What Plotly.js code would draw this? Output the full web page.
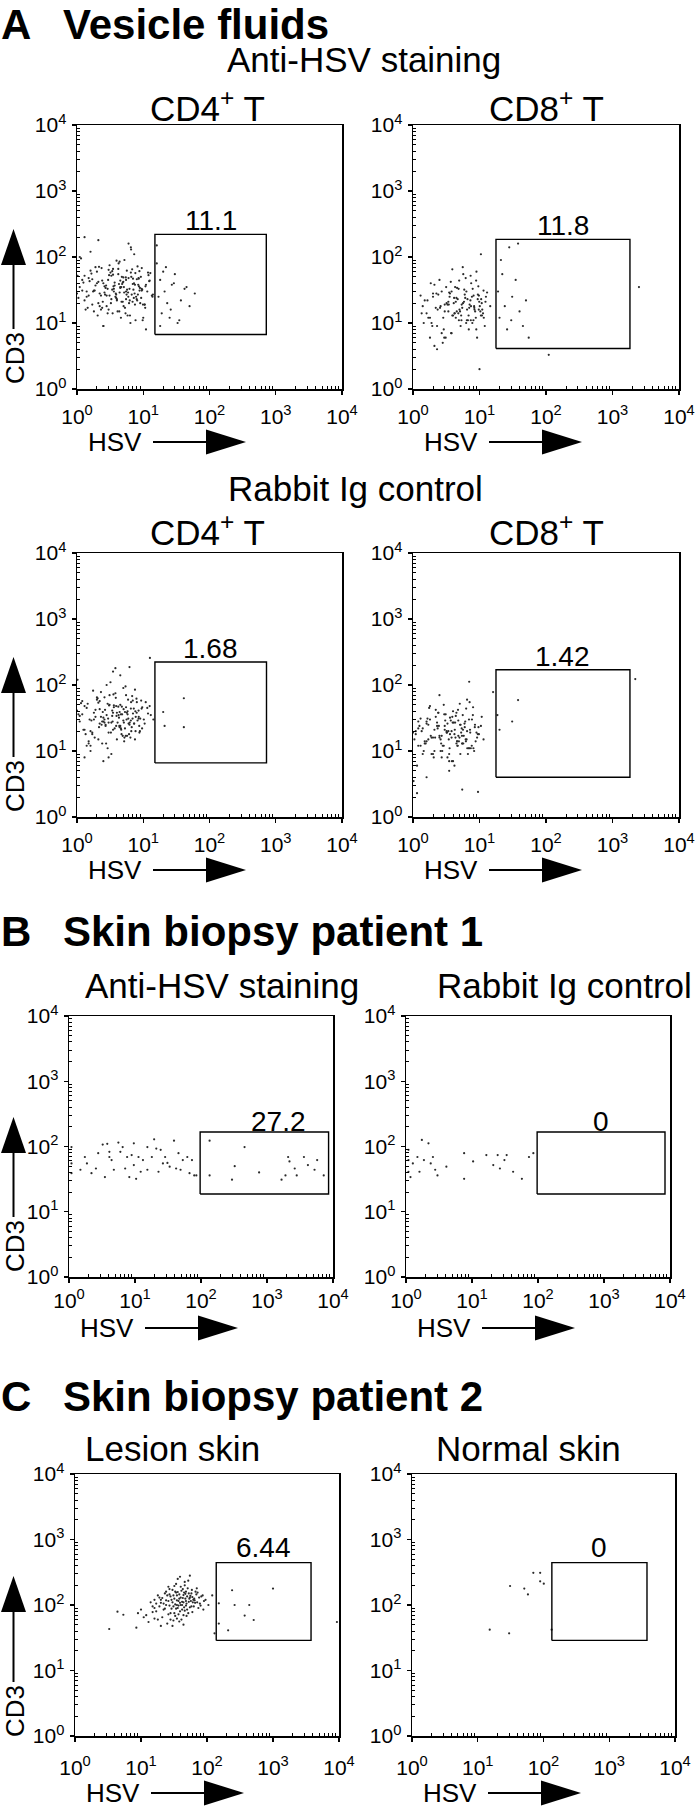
<!DOCTYPE html>
<html>
<head>
<meta charset="utf-8">
<script src="https://cdn.plot.ly/plotly-3.0.1.min.js"></script>
<style>
  body { margin: 0; background: #fff; }
  #chart { width: 700px; height: 1809px; }
</style>
</head>
<body>
<div id="chart"></div>
<script>
// Vesicle fluids, anti-HSV, CD4+ T
const a1x = [1.1,1.3,1.5,1.8,2.0,2.2,2.5,2.8,3.1,3.4,3.8,4.2,4.6,5.0,5.5,6.1,6.8,7.5,8.3,9.2,
  1.2,1.4,1.7,1.9,2.3,2.6,2.9,3.3,3.6,4.0,4.4,4.9,5.3,5.9,6.5,7.2,8.0,8.8,9.8,11,
  1.0,1.6,2.1,2.4,2.7,3.0,3.5,3.9,4.3,4.7,5.2,5.7,6.3,7.0,7.8,8.6,9.5,10.5,11.5,12.3,
  1.3,1.5,1.9,2.2,2.6,3.0,3.3,3.7,4.1,4.5,5.0,5.6,6.2,6.9,7.6,8.4,9.3,10,1.1,1.8,
  2.0,2.4,2.8,3.2,3.6,4.0,4.5,5.1,5.8,6.6,7.4,8.2,9.0,10.8,1.4,1.7,2.3,2.9,3.4,3.9,
  4.4,4.8,5.4,6.0,6.7,7.3,8.1,8.9,9.9,12,1.2,2.1,2.5,3.1,3.7,4.2,4.9,5.5,6.4,7.1,
  1.05,1.25,1.45,1.65,1.85,2.05,2.35,2.65,2.95,3.25,3.55,3.95,4.35,4.75,5.15,5.65,6.25,6.95,7.65,8.55,
  9.45,10.5,11.8,13.5,1.15,1.35,1.55,1.75,2.15,2.45,2.75,3.05,3.45,3.85,4.25,4.65,5.05,5.45,5.95,6.55,
  7.25,7.95,8.75,9.65,10.7,12.5,14,1.02,1.6,2.5,3.5,4.5,5.5,6.5,7.5,8.5,9.5,11,12.8,13.8,
  1.3,2.1,6,
  16,17,18,19,20,21,23,25,27,30,33,37,42,50,60,16,18,22,26,29,35,45];
const a1y = [35,22,48,15,60,28,40,18,75,32,25,55,12,42,30,20,65,38,27,50,
  45,30,19,70,26,36,14,52,33,23,85,41,17,29,58,24,46,31,11,38,
  28,62,20,44,34,16,54,27,39,21,90,32,13,47,25,36,68,19,30,43,
  52,26,37,18,29,64,23,41,15,35,49,27,33,21,57,38,24,12,100,31,
  40,17,26,58,30,22,44,35,13,50,28,72,20,36,25,46,16,33,61,24,
  29,39,14,48,27,110,22,34,19,53,31,42,9,26,37,66,21,45,10,32,
  24,41,17,56,31,13,68,27,45,20,36,88,15,50,29,62,22,39,11,47,
  33,19,58,26,95,16,43,30,71,21,37,53,14,28,80,35,18,49,25,130,
  40,23,61,32,17,44,27,52,120,9,66,34,23,140,19,48,31,8,57,25,
  200,180,160,
  80,25,45,14,60,30,20,12,38,55,10,22,33,18,28,150,9,70,16,40,11,35];

// Vesicle fluids, anti-HSV, CD8+ T
const a2x = [1.4,1.7,2.0,2.3,2.7,3.0,3.4,3.8,4.3,4.8,5.4,6.0,6.7,7.5,8.4,9.4,10.5,11.5,1.5,1.9,
  2.2,2.5,2.9,3.2,3.6,4.0,4.5,5.1,5.7,6.3,7.1,7.9,8.8,9.8,11,12,1.6,2.1,2.6,3.1,
  3.5,3.9,4.4,4.9,5.5,6.2,6.9,7.7,8.6,9.6,10.8,1.8,2.4,2.8,3.3,3.7,4.2,4.7,5.2,5.9,
  6.5,7.3,8.1,9.0,10.1,2.0,2.7,3.4,4.1,4.6,5.3,6.1,7.0,7.8,8.9,9.9,11.3,1.3,2.3,3.0,
  3.8,4.4,5.0,5.6,6.6,7.4,8.3,9.2,10.3,12.5,
  1.35,1.65,1.95,2.25,2.55,2.85,3.15,3.45,3.75,4.15,4.55,4.95,5.35,5.85,6.35,6.85,7.45,8.15,8.95,9.75,
  10.6,11.6,13,14.5,1.45,1.85,2.35,2.95,3.55,4.25,4.85,5.65,6.45,7.35,8.35,9.45,10.9,12.3,2.1,3.9,
  19,20,22,24,26,28,31,35,40,45,50,55,21,30,38,
  2500,110,10,10.5,1.8];
const a2y = [18,12,25,9,30,15,21,7,35,14,19,27,11,40,16,23,13,31,22,10,
  17,45,8,20,28,13,24,15,55,10,19,33,12,26,16,9,14,38,18,6,
  29,13,21,11,17,48,8,25,15,36,20,12,27,5,19,42,14,23,9,32,
  16,22,11,60,18,28,7,15,20,34,13,24,17,10,44,21,14,26,4,19,
  30,12,16,70,23,11,18,6,15,25,
  14,22,9,28,17,12,35,19,7,24,15,44,11,21,30,13,18,26,8,16,
  23,12,29,18,10,40,16,6,25,14,33,20,11,52,17,27,13,21,4.5,65,
  30,12,55,18,8,140,25,45,15,9,22,6,90,11,160,
  35,3.3,2.0,110,6];

// Vesicle fluids, rabbit Ig, CD4+ T
const a3x = [1.1,1.4,1.7,2.0,2.3,2.7,3.1,3.5,4.0,4.5,5.1,5.8,6.6,7.5,8.5,9.6,10.9,1.2,1.6,1.9,
  2.2,2.6,3.0,3.4,3.9,4.4,5.0,5.6,6.4,7.2,8.2,9.3,1.3,1.8,2.4,2.9,3.3,3.8,4.3,4.9,
  5.5,6.2,7.0,7.9,8.9,10.2,1.0,1.5,2.1,2.5,2.8,3.2,3.7,4.2,4.7,5.3,6.0,6.8,7.7,8.7,
  1.2,1.7,2.2,2.6,3.0,3.6,4.1,4.6,5.2,5.9,6.7,7.6,9.0,11.5,1.4,1.9,2.3,2.7,3.1,3.5,
  4.0,4.5,5.0,5.7,6.5,7.3,8.0,1.1,1.6,2.0,2.4,2.9,3.4,3.9,4.8,5.4,6.1,6.9,1.3,2.1,
  2.6,3.3,4.4,5.3,13,1.5,2.8,3.6,1.8,2.5,
  1.05,1.25,1.45,1.65,1.85,2.05,2.35,2.65,2.95,3.25,3.55,3.95,4.35,4.75,5.15,5.65,6.25,6.95,7.65,8.55,
  9.45,10.5,11.8,1.15,1.35,1.55,1.75,2.15,2.45,2.75,3.05,3.45,3.85,4.25,4.65,5.05,5.45,5.95,6.55,7.25,
  7.95,8.75,9.65,1.02,1.6,2.5,3.5,4.5,5.5,6.5,7.5,8.5,1.3,2.2,3.0,3.8,4.6,5.8,12.5,14.2,
  20,21,41,41,12.6,6.2];
const a3y = [28,45,18,60,33,24,70,38,15,50,27,40,20,85,31,22,55,36,12,42,
  26,65,19,34,48,23,90,30,16,44,29,58,21,38,13,52,27,75,32,17,
  46,25,37,62,20,30,41,14,54,28,35,110,22,47,18,39,26,68,33,24,
  57,19,43,30,8,49,27,36,16,60,23,40,31,45,12,33,78,25,50,21,
  38,140,29,17,44,26,55,34,20,65,28,11,41,24,36,95,18,31,48,15,
  27,9,39,22,35,13,100,46,30,7,
  36,21,52,29,16,63,25,42,31,19,72,34,24,47,14,38,27,58,20,33,
  44,26,37,53,18,30,82,23,39,13,49,28,64,35,21,43,17,31,55,26,
  38,19,46,120,10,32,160,24,70,29,15,41,8,57,27,180,22,36,48,30,
  39,24,63,23,257,187];

// Vesicle fluids, rabbit Ig, CD8+ T
const a4x = [1.1,1.3,1.6,1.9,2.2,2.6,3.0,3.5,4.0,4.6,5.3,6.1,7.0,8.0,9.2,10.5,1.2,1.5,1.8,2.1,
  2.5,2.9,3.3,3.8,4.3,4.9,5.6,6.4,7.4,8.5,9.8,1.4,1.7,2.0,2.4,2.8,3.2,3.7,4.2,4.8,
  5.5,6.3,7.2,8.3,1.0,1.3,1.6,2.3,2.7,3.1,3.6,4.1,4.7,5.4,6.2,7.1,8.1,1.2,1.9,2.2,
  2.6,3.4,3.9,4.5,5.1,5.8,6.7,7.7,9.0,1.5,1.8,2.1,2.9,3.3,4.0,4.4,5.0,6.0,6.9,1.1,
  1.7,2.4,3.0,3.5,4.2,4.8,5.7,6.5,1.4,2.0,2.7,3.6,4.6,1.6,2.3,3.2,1.2,2.5,3.8,5.2,
  1.05,1.25,1.45,1.65,1.85,2.05,2.35,2.65,2.95,3.25,3.55,3.95,4.35,4.75,5.15,5.65,6.25,6.95,7.65,8.55,
  9.45,10.8,1.15,1.35,1.55,1.75,2.15,2.45,2.75,3.05,3.45,3.85,4.25,4.65,5.05,5.45,5.95,6.55,7.25,7.95,
  8.75,9.65,1.02,1.6,2.5,3.5,4.5,5.5,6.5,11.5,
  18.6,20,31,38,16,2200,7,9.5,5.5,1.15];
const a4y = [18,12,26,9,33,15,21,7,40,14,19,28,11,46,16,24,22,13,30,10,
  17,50,8,20,27,14,35,15,11,23,18,9,25,16,38,12,20,29,6,17,
  13,44,21,10,19,31,14,24,8,36,18,27,12,22,15,55,11,28,16,42,
  10,20,33,13,25,17,9,30,19,14,48,21,12,26,7,34,16,23,11,20,
  15,38,24,5,18,29,13,60,22,9,17,32,14,4,27,19,12,70,16,25,
  15,24,10,31,17,8,22,13,36,19,11,27,16,42,9,21,14,30,12,25,
  18,33,6,20,13,45,16,24,10,29,15,7,21,12,52,17,26,11,19,35,
  14,23,3.5,28,16,9,38,13,20,15,
  35,21,28,59,78,123,112,2.4,2.6,2.3];

// Skin biopsy patient 1
const b1x = [1.09,1.09,1.09,1.87,2.19,3.24,3.8,4.09,4.09,4.78,5.6,6.0,7.1,7.6,8.9,9.6,10.4,11.3,13.2,15.4,
  19.5,21,22.7,26.5,31,39,42,49,62,67,79,2.56,3.5,4.42,6.5,12.2,18,24.5,33.5,45.6,
  53,1.74,2.77,8.2,15.4,28.6,1.49,9.6,85,73,
  135,457,324,295,759,135,2090,2630,3630,4170,5250,1660,1905,2820,7240,5750,2190];
const b1y = [98,55,39,55,39,107,110,69,83,44,115,83,46,69,74,112,32,69,62,44,
  129,93,41,55,56,123,46,44,69,39,36,46,34,62,98,41,69,89,49,79,
  62,69,79,34,98,69,44,52,36,62,
  123,98,50,31,40,36,69,46,69,52,44,31,36,36,36,62,59];
const b2x = [1.09,1.09,1.09,1.17,1.49,1.74,1.87,2.19,2.37,2.77,3.0,7.6,7.6,16.5,21,24.5,31,33.5,42,57,
  73,85,1.6,1.27,2.56,4.09,10.4,26.5];
const b2y = [89,62,41,34,69,126,62,112,55,44,36,79,32,74,52,74,62,74,41,32,
  69,79,41,55,69,49,59,46];

// Skin biopsy patient 2
const c1x = [12,15,18,20,22,25,28,30,33,36,40,44,48,53,58,64,70,78,86,95,
  14,17,19,21,24,27,29,32,35,38,42,46,50,55,61,67,74,82,90,105,
  10,13,16,23,26,31,34,37,39,41,43,45,47,49,52,56,60,65,72,80,
  11,16,20,24,28,31,33,35,37,40,42,45,49,54,59,66,76,88,9,22,
  18,25,30,34,38,41,44,48,51,57,63,69,15,21,27,32,36,39,46,53,
  24,29,33,37,43,50,62,19,26,35,40,47,55,71,8.5,120,17,31,44,58,
  23,36,28,34,42,55,30,46,26,38,20,32,48,52,60,16,39,44,27,35,
  240,262,372,510,437,1000,209,151,151,
  9300,130,3.3,4.4,5.4];
const c1y = [70,95,60,120,85,140,75,110,160,90,130,70,115,150,95,125,180,105,140,120,
  110,80,130,65,100,175,88,125,62,145,100,200,85,130,110,160,90,135,115,100,
  85,55,120,150,72,95,210,115,80,165,128,92,148,105,235,138,78,118,155,98,
  65,90,48,118,135,58,102,140,72,190,112,155,68,125,170,108,130,85,75,105,
  140,52,170,88,125,60,142,98,180,115,95,145,78,128,98,75,158,108,82,112,
  160,120,68,98,175,135,120,95,115,118,100,125,92,110,45,140,105,140,110,150,
  88,250,60,155,85,280,48,225,190,56,108,195,160,75,132,62,270,50,145,100,
  168,100,69,59,100,178,41,106,52,
  55,37,43,79,71];
const c2x = [15.2,30,31,51,58,70,89,89,101,133];
const c2y = [42,37,195,178,145,310,310,230,212,42];

// gates: [xmin, xmax, ymin, ymax] and the percentages printed over them
const gateA1 = [15, 720, 6.7, 220];
const gateA2 = [17.7, 1830, 4.1, 185];
const gateA3 = [15, 725, 6.6, 223];
const gateA4 = [17.7, 1830, 4.0, 170];
const gateB1 = [97, 8570, 18.7, 167];
const gateB2 = [97, 8400, 18.7, 167];
const gateC1 = [138, 3770, 28.8, 443];
const gateC2 = [134, 3750, 28.8, 443];
const pcts = ['11.1', '11.8', '1.68', '1.42', '27.2', '0', '6.44', '0'];

const decades = [1, 10, 100, 1000, 10000];
const decadeText = ['10<sup>0</sup>', '10<sup>1</sup>', '10<sup>2</sup>', '10<sup>3</sup>', '10<sup>4</sup>'];
const minorTicks = [2,3,4,5,6,7,8,9,20,30,40,50,60,70,80,90,200,300,400,500,600,700,800,900,
  2000,3000,4000,5000,6000,7000,8000,9000];

const W = 700, H = 1809;
const FONT = 'Liberation Sans, Arial, Helvetica, sans-serif';
const fx = p => p / W;
const fy = p => 1 - p / H;

// pixel boxes [left, top, right, bottom]; lab = tick label standoff, hsv = arrow offset under axis
const panels = [
  { x: a1x, y: a1y, gate: gateA1, box: [77, 125, 342, 389], lab: 4, hsv: 53, left: true, dx: 0, dy: -4 },
  { x: a2x, y: a2y, gate: gateA2, box: [413, 125, 679, 389], lab: 4, hsv: 53, left: false, dx: 0, dy: -4 },
  { x: a3x, y: a3y, gate: gateA3, box: [77, 553, 342, 817], lab: 4, hsv: 53, left: true, dx: 0, dy: -4 },
  { x: a4x, y: a4y, gate: gateA4, box: [413, 553, 679, 817], lab: 4, hsv: 53, left: false, dx: 0, dy: -4 },
  { x: b1x, y: b1y, gate: gateB1, box: [69, 1016, 333, 1277], lab: 0, hsv: 51, left: true, dx: 14, dy: -7 },
  { x: b2x, y: b2y, gate: gateB2, box: [406, 1016, 670, 1277], lab: 0, hsv: 51, left: false, dx: 0, dy: -7 },
  { x: c1x, y: c1y, gate: gateC1, box: [75, 1474, 339, 1736], lab: 8, hsv: 57, left: true, dx: 0, dy: -2 },
  { x: c2x, y: c2y, gate: gateC2, box: [412, 1474, 675, 1736], lab: 8, hsv: 57, left: false, dx: 0, dy: -2 }
];

const traces = [];
const annotations = [];
const shapes = [];
const layout = {
  width: W, height: H,
  margin: { l: 0, r: 0, t: 0, b: 0 },
  paper_bgcolor: '#fff', plot_bgcolor: '#fff',
  showlegend: false,
  font: { family: FONT, color: '#000' },
  annotations: annotations,
  shapes: shapes
};

function txt(text, x, y, size, opts) {
  annotations.push(Object.assign({
    text: text, x: fx(x), y: fy(y), xref: 'paper', yref: 'paper',
    xanchor: 'center', yanchor: 'middle', showarrow: false,
    font: { family: FONT, size: size, color: '#000' }
  }, opts || {}));
}

function tri(pts) {
  const d = pts.map((p, i) => (i ? 'L' : 'M') + fx(p[0]) + ',' + fy(p[1])).join(' ') + ' Z';
  shapes.push({ type: 'path', xref: 'paper', yref: 'paper', path: d, fillcolor: '#000', line: { width: 0 } });
}

function seg(x0, y0, x1, y1) {
  shapes.push({ type: 'line', xref: 'paper', yref: 'paper', x0: fx(x0), y0: fy(y0), x1: fx(x1), y1: fy(y1),
    line: { color: '#000', width: 2 } });
}

panels.forEach((p, i) => {
  const k = i === 0 ? '' : String(i + 1);
  const [L, T, R, B] = p.box;
  const axisBase = {
    type: 'log', range: [0, 4], showgrid: false, zeroline: false,
    showline: true, mirror: true, linecolor: '#000', linewidth: 1.5,
    ticks: 'outside', ticklen: 4, tickwidth: 1.3, tickcolor: '#000',
    tickmode: 'array', tickvals: decades, ticktext: decadeText,
    tickfont: { family: FONT, size: 21, color: '#000' },
    minor: { tickmode: 'array', tickvals: minorTicks, ticks: 'inside', ticklen: 3, tickwidth: 1, tickcolor: '#000', showgrid: false },
    fixedrange: true
  };
  layout['xaxis' + k] = Object.assign({}, axisBase, {
    domain: [fx(L), fx(R)], anchor: 'y' + k, ticklabelstandoff: p.lab
  });
  layout['yaxis' + k] = Object.assign({}, axisBase, {
    domain: [fy(B), fy(T)], anchor: 'x' + k, ticklabelstandoff: 1
  });

  traces.push({
    type: 'scatter', mode: 'markers', x: p.x, y: p.y,
    xaxis: 'x' + k, yaxis: 'y' + k, hoverinfo: 'skip',
    marker: { size: 2.2, color: '#2a2a2a' }
  });
  const g = p.gate;
  traces.push({
    type: 'scatter', mode: 'lines',
    x: [g[0], g[1], g[1], g[0], g[0]], y: [g[2], g[2], g[3], g[3], g[2]],
    xaxis: 'x' + k, yaxis: 'y' + k, hoverinfo: 'skip',
    line: { color: '#000', width: 1.4 }
  });
  annotations.push({
    text: pcts[i], xref: 'x' + k, yref: 'y' + k,
    x: (Math.log10(g[0]) + Math.log10(g[1])) / 2, y: Math.log10(g[3]),
    xanchor: 'center', yanchor: 'bottom', xshift: p.dx, yshift: p.dy,
    showarrow: false, font: { family: FONT, size: 28, color: '#000' }
  });

  // HSV axis label with arrow
  const hy = B + p.hsv;
  txt('HSV', L + 10, hy, 26, { xanchor: 'left', borderpad: 0 });
  seg(L + 76, hy, L + 132, hy);
  tri([[L + 129, hy - 12.5], [L + 169, hy], [L + 129, hy + 12.5]]);

  // CD3 axis label with arrow, left column only
  if (p.left) {
    const base = i >= 6 ? 6 : 0;
    txt('CD3', 15, B - 31 + base, 26, { textangle: -90 });
    seg(13.5, B - 60 + base, 13.5, B - 126);
    tri([[1, B - 124], [13.5, B - 160], [26, B - 124]]);
  }
});

// section headings (the first one hangs from the top edge)
const bold = { xanchor: 'left', borderpad: 0 };
const hang = { xanchor: 'left', yanchor: 'top', borderpad: 0 };
txt('<b>A</b>', 0, 0, 42, hang);
txt('<b>Vesicle fluids</b>', 62, 0, 42, hang);
txt('<b>B</b>', 0, 931, 42, bold);
txt('<b>Skin biopsy patient 1</b>', 62, 931, 42, bold);
txt('<b>C</b>', 0, 1396, 42, bold);
txt('<b>Skin biopsy patient 2</b>', 62, 1396, 42, bold);

// panel headings
txt('Anti-HSV staining', 364, 60, 35);
txt('CD4<sup>+</sup> T', 207, 106, 35);
txt('CD8<sup>+</sup> T', 546, 106, 35);
txt('Rabbit Ig control', 355, 488, 35);
txt('CD4<sup>+</sup> T', 207, 530, 35);
txt('CD8<sup>+</sup> T', 546, 530, 35);
txt('Anti-HSV staining', 222, 986, 35);
txt('Rabbit Ig control', 564, 986, 35);
txt('Lesion skin', 172, 1448, 35);
txt('Normal skin', 528, 1448, 35);

Plotly.newPlot('chart', traces, layout, { displayModeBar: false, staticPlot: true });
</script>
</body>
</html>
